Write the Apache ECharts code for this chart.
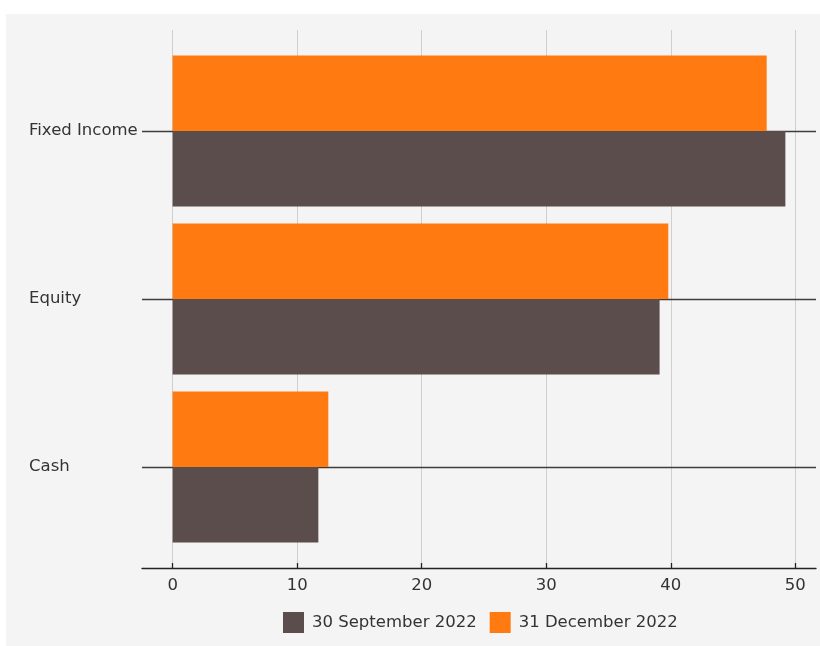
<!DOCTYPE html>
<html>
<head>
<meta charset="utf-8">
<script src="https://cdn.jsdelivr.net/npm/echarts@6/dist/echarts.min.js"></script>
<style>
  html, body { margin: 0; padding: 0; background: #ffffff; }
  #chart { width: 820px; height: 646px; }
</style>
</head>
<body>
<div id="chart"></div>
<script>
const categories = ['Cash', 'Equity', 'Fixed Income'];
const seriesNames = ['30 September 2022', '31 December 2022'];
const sep2022 = [11.7, 39.1, 49.2];
const dec2022 = [12.5, 39.8, 47.7];
const xTicks = [0, 10, 20, 30, 40, 50];

const xMin = -2.46, xMax = 51.66;
const font = 'DejaVu Sans';
const textColor = '#333333';
const fs = 16.5;

const chart = echarts.init(document.getElementById('chart'));
chart.setOption({
  backgroundColor: '#ffffff',
  animation: false,
  textStyle: { fontFamily: font },
  graphic: [{
    type: 'rect', left: 6, top: 14, z: -10,
    shape: { width: 814, height: 632 },
    style: { fill: '#f4f4f4' }
  }],
  legend: {
    left: 283, top: 612, padding: 0,
    itemWidth: 21, itemHeight: 21, itemGap: 13,
    icon: 'rect',
    textStyle: { fontFamily: font, fontSize: fs, color: textColor, padding: [0, 0, 0, 3] },
    data: seriesNames
  },
  grid: [
    { left: 172.64, top: 30, width: 622.67, height: 538 },
    { left: 142, top: 47, width: 674, height: 504 },
    { left: 142, top: 30, width: 674, height: 538 }
  ],
  xAxis: [
    {
      gridIndex: 0, type: 'value', min: xTicks[0], max: xTicks[xTicks.length - 1], interval: 10,
      axisLine: { show: false },
      axisTick: { show: true, inside: true, length: 5, lineStyle: { color: '#222', width: 1.3 } },
      axisLabel: { fontFamily: font, fontSize: fs, color: textColor, margin: 9 },
      splitLine: { show: true, lineStyle: { color: '#cfcfcf', width: 1 } }
    },
    {
      gridIndex: 1, type: 'value', min: xMin, max: xMax, show: false
    },
    {
      gridIndex: 2, type: 'value', min: xMin, max: xMax,
      axisLine: { show: true, lineStyle: { color: '#222', width: 1.3 } },
      axisTick: { show: false }, axisLabel: { show: false }, splitLine: { show: false }
    }
  ],
  yAxis: [
    { gridIndex: 0, type: 'value', show: false },
    {
      gridIndex: 1, type: 'category', data: categories,
      axisLine: { show: false, onZero: false },
      axisTick: { show: true, alignWithLabel: true, inside: true, length: 674, lineStyle: { color: '#3c3c3c', width: 1.3 } },
      axisLabel: { fontFamily: font, fontSize: fs, color: textColor, align: 'left', margin: 113 },
      splitLine: { show: false }
    },
    { gridIndex: 2, type: 'value', show: false }
  ],
  series: [
    {
      name: seriesNames[1], type: 'bar', xAxisIndex: 1, yAxisIndex: 1,
      data: dec2022, barWidth: '45%', barGap: '0%',
      itemStyle: { color: '#ff7a10' }
    },
    {
      name: seriesNames[0], type: 'bar', xAxisIndex: 1, yAxisIndex: 1,
      data: sep2022, barWidth: '45%', barGap: '0%',
      itemStyle: { color: '#5a4d4b' }
    }
  ]
});
</script>
</body>
</html>
